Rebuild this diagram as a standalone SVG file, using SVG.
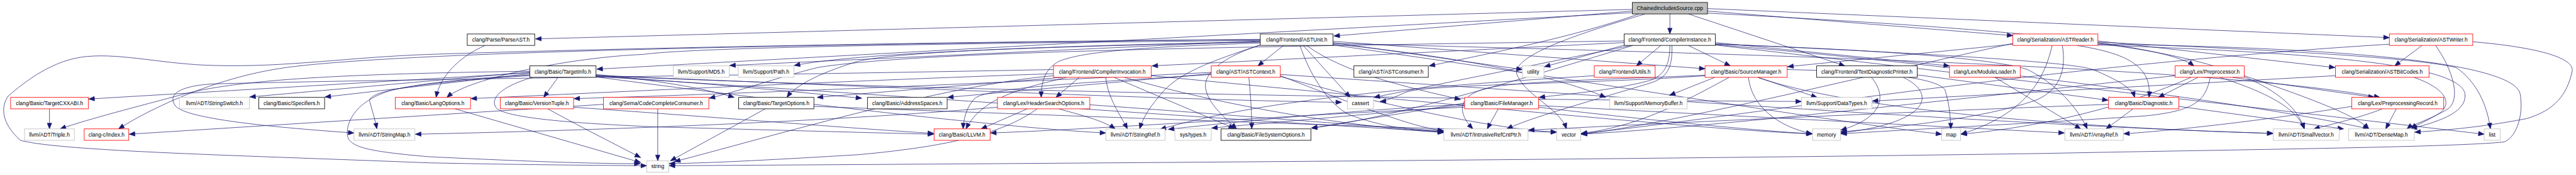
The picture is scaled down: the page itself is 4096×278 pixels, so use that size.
<svg xmlns="http://www.w3.org/2000/svg" width="4096" height="278" viewBox="0 0 4096 278">
<style>
.n rect{fill:#fff;stroke-width:1.3}
.n text{font-family:"Liberation Sans",Arial,sans-serif;font-size:13px;text-anchor:middle;fill:#000}
.blk rect{stroke:#000}
.red rect{stroke:#ff0000}
.gry rect{stroke:#bfbfbf}
.root rect{fill:#bfbfbf;stroke:#000}
#edges path{fill:none;stroke:#191970;stroke-width:1.1;marker-end:url(#a)}
</style>
<defs>
<marker id="a" markerUnits="userSpaceOnUse" markerWidth="16" markerHeight="14" refX="14" refY="6" orient="auto" overflow="visible"><path d="M0,0.5 L14,6 L0,11.5 z" fill="#191970" stroke="#191970" stroke-width="1"/></marker>
</defs>
<rect width="4096" height="278" fill="#fff"/>
<g transform="scale(0.65)">
<g id="edges">
<path d="M4085,34 L4085,83"/>
<path d="M3993,23 L1310,95"/>
<path d="M3993,27 L3263,88"/>
<path d="M3993,31 L1460,169"/>
<path d="M4177,27 L4924,87"/>
<path d="M4177,21 L5845,92"/>
<path d="M4130,34 L4513,161"/>
<path d="M4177,32 C4700,60 5280,95 5367,161"/>
<path d="M4010,34 C3850,90 3650,130 3496,161"/>
<path d="M4025,34 C3850,85 3690,140 3712,185 C3735,235 3815,265 3832,315"/>
<path d="M3975,110 L3778,163"/>
<path d="M4063,111 L4003,161"/>
<path d="M4130,111 L4233,161"/>
<path d="M3973,104 L2818,161"/>
<path d="M4085,111 C4085,160 4070,185 4035,197 C3940,222 3830,230 3765,238"/>
<path d="M4090,111 C4092,170 4075,190 4040,202 C3900,245 3750,285 3686,315"/>
<path d="M4196,104 L4769,161"/>
<path d="M4196,107 C4700,130 5060,150 5120,170 C5180,195 5215,215 5222,238"/>
<path d="M4196,110 L6077,328"/>
<path d="M4196,108 C4700,125 4900,150 4960,170 C5030,205 5080,260 5106,315"/>
<path d="M3973,100 C3000,115 2250,125 2000,165 C1900,190 1800,225 1735,240"/>
<path d="M3990,111 L3361,238"/>
<path d="M3995,111 C3700,200 3400,290 3208,313"/>
<path d="M4196,109 C4800,160 5500,250 5795,315"/>
<path d="M3140,111 L3077,161"/>
<path d="M3188,111 L3303,238"/>
<path d="M3180,111 C3210,200 3260,260 3300,280 C3380,310 3450,318 3532,322"/>
<path d="M3196,111 C3290,180 3450,215 3573,243"/>
<path d="M3261,104 L3724,170"/>
<path d="M3261,101 L4171,168"/>
<path d="M3261,108 C3500,130 3800,180 3928,238"/>
<path d="M3083,97 C2400,100 1500,118 1048,133 C850,140 700,165 523,160 C400,157 300,130 213,138 C130,145 60,200 20,235 C2,260 2,300 50,343 C150,370 600,380 1048,398 C1300,403 1450,404 1582,405"/>
<path d="M3083,100 L1785,160"/>
<path d="M3083,103 C2500,115 2100,130 1943,160"/>
<path d="M3083,99 C2400,105 1700,115 1573,133 C1400,140 1150,190 1093,238"/>
<path d="M3083,105 C2800,115 2650,125 2590,150 C2555,170 2547,200 2547,238"/>
<path d="M3083,102 C2600,112 2200,125 2098,150 C2000,180 1945,210 1925,238"/>
<path d="M3083,110 C2960,150 2880,180 2840,230 C2810,265 2795,290 2788,315"/>
<path d="M3083,110 C2990,140 2940,180 2950,220 C2960,260 3000,290 3025,315"/>
<path d="M3083,96 C2000,108 1000,125 700,165 C520,190 360,270 290,315"/>
<path d="M3261,106 C4200,130 5400,160 5822,238"/>
<path d="M3261,110 C3900,200 4500,300 4750,328"/>
<path d="M3055,189 C3060,240 3062,280 3062,315"/>
<path d="M2725,189 L3020,314"/>
<path d="M2963,180 L2318,238"/>
<path d="M2963,182 C2700,200 2420,212 2385,240 C2365,260 2357,290 2356,315"/>
<path d="M2963,177 C2500,200 1800,230 1404,241"/>
<path d="M3132,185 C3300,250 3450,310 3532,320"/>
<path d="M3132,182 C4000,240 5000,310 5561,326"/>
<path d="M3132,187 C3400,260 3650,315 3808,323"/>
<path d="M2600,189 L1999,238"/>
<path d="M2640,189 L2583,238"/>
<path d="M2577,180 C2000,200 1400,230 1152,241"/>
<path d="M2705,189 C2710,240 2740,280 2758,315"/>
<path d="M2577,185 C2300,210 1900,330 1650,395"/>
<path d="M2577,170 C1800,185 900,195 523,205 C430,210 410,235 430,260 C460,290 650,310 866,325"/>
<path d="M2610,189 C2500,215 2400,240 2363,315"/>
<path d="M2750,189 C3000,260 3300,310 3532,324"/>
<path d="M2816,185 C3500,250 4200,320 4434,327"/>
<path d="M1296,178 L217,242"/>
<path d="M1296,176 L611,237"/>
<path d="M1296,180 L795,237"/>
<path d="M1296,174 C900,180 600,190 450,230 C330,262 220,290 147,315"/>
<path d="M1365,189 L1330,238"/>
<path d="M1458,182 C1600,195 1720,215 1796,238"/>
<path d="M1458,186 C1700,200 1950,225 2108,240"/>
<path d="M1458,184 C2200,215 2900,245 3282,250"/>
<path d="M1296,185 C1050,200 890,220 905,250 C912,275 918,295 922,315"/>
<path d="M1296,183 C1150,192 1050,200 960,220 C870,245 845,300 850,333 C858,360 900,370 1048,383 C1300,395 1450,400 1566,400"/>
<path d="M1303,189 C1230,210 1195,240 1215,265 C1250,295 1500,305 1600,310 C1900,318 2150,325 2284,328"/>
<path d="M1458,188 C2000,260 2500,315 2705,325"/>
<path d="M1458,187 C2300,240 3100,300 3531,322"/>
<path d="M1458,185 C2500,230 3800,245 4407,248"/>
<path d="M1187,111 C1120,140 1075,190 1067,238"/>
<path d="M121,266 L121,315"/>
<path d="M1609,266 L1609,393"/>
<path d="M1476,255 L316,328"/>
<path d="M1340,266 C1420,310 1500,350 1567,385"/>
<path d="M1403,262 C1800,290 2100,315 2284,326"/>
<path d="M1113,266 L1567,397"/>
<path d="M1872,266 L1640,393"/>
<path d="M1991,260 C2800,290 3500,315 3808,323"/>
<path d="M2513,266 L2400,315"/>
<path d="M2537,266 C2450,330 2300,360 2100,378 C1900,390 1750,398 1637,400"/>
<path d="M2590,266 C2640,280 2700,295 2728,315"/>
<path d="M2440,262 C2000,300 1400,320 1016,328"/>
<path d="M2666,256 C3000,280 3300,305 3531,320"/>
<path d="M3665,266 L3638,315"/>
<path d="M3583,262 C3100,285 2700,315 2423,325"/>
<path d="M3583,258 L2964,313"/>
<path d="M3583,255 C3300,270 3000,300 2858,316"/>
<path d="M3583,252 L3208,313"/>
<path d="M3764,262 C4000,290 4300,320 4433,327"/>
<path d="M3764,258 L5050,325"/>
<path d="M3900,185 C3500,210 3100,240 2838,316"/>
<path d="M4195,189 L4084,233"/>
<path d="M4300,189 L4445,238"/>
<path d="M4171,185 C3900,205 3500,205 3440,225 C3410,238 3390,247 3376,248"/>
<path d="M4171,184 C3900,195 3700,200 3640,215 C3570,232 3560,270 3603,315"/>
<path d="M4277,189 C4285,260 4350,310 4433,327"/>
<path d="M4372,170 C4600,175 4740,190 4758,220 C4768,250 4772,290 4772,315"/>
<path d="M4300,189 C4500,260 5000,310 5560,326"/>
<path d="M4230,189 C4100,260 4000,310 3868,326"/>
<path d="M4690,183 L5157,245"/>
<path d="M4578,189 C4620,240 4600,290 4503,318"/>
<path d="M4656,189 C4740,230 4720,300 4503,325"/>
<path d="M4880,189 L5090,315"/>
<path d="M4924,108 L4373,163"/>
<path d="M5132,100 L5712,165"/>
<path d="M5080,111 C5200,130 5265,160 5257,238"/>
<path d="M5045,111 C5055,170 5040,220 4980,245 C4850,290 4650,310 4503,322"/>
<path d="M5020,111 C5000,200 4950,280 4797,328"/>
<path d="M5132,106 C5400,140 5600,200 5637,315"/>
<path d="M5132,110 C5700,130 6020,160 6030,230 C6035,280 5950,300 5898,315"/>
<path d="M5132,103 C5600,125 5900,140 6008,165 C6060,200 6085,260 6092,315"/>
<path d="M5132,108 C5700,115 6150,150 6165,230 C6175,290 6150,340 6125,347 C6000,360 5500,365 5000,375 C4000,390 2500,400 1637,405"/>
<path d="M4924,106 C4500,200 4100,300 3868,328"/>
<path d="M5925,111 L5858,161"/>
<path d="M5958,111 C6000,170 6020,240 5990,265 C5950,290 5900,305 5888,315"/>
<path d="M6049,102 C6200,115 6300,140 6292,175 C6280,230 6250,270 6180,290 C6050,315 5950,320 5907,323"/>
<path d="M5845,108 C5000,160 4300,280 3868,327"/>
<path d="M5905,189 C5980,215 6000,250 5970,275 C5940,295 5910,305 5899,315"/>
<path d="M5713,185 L4580,247"/>
<path d="M5377,189 L5280,238"/>
<path d="M5430,189 C5560,230 5620,270 5637,315"/>
<path d="M5460,189 L5808,238"/>
<path d="M5407,189 C5395,240 5380,270 5250,283 C5000,300 4700,315 4503,327"/>
<path d="M5490,185 C5650,240 5760,280 5795,315"/>
<path d="M5321,185 C4800,240 4200,310 3868,328"/>
<path d="M5360,189 C5200,260 5000,310 4797,328"/>
<path d="M5330,260 L5733,315"/>
<path d="M5218,266 L5152,315"/>
<path d="M5158,255 C4500,280 4000,305 3739,318"/>
<path d="M5862,266 L5836,315"/>
<path d="M5753,260 C5500,300 5300,320 5195,327"/>
<path d="M5828,266 C5780,285 5720,300 5660,315"/>
</g>
<g id="n_root" class="n root"><rect x="3993" y="6" width="184" height="28"/><text x="4085" y="24.5">ChainedIncludesSource.cpp</text></g>
<g id="n_parseast" class="n blk"><rect x="1143" y="83" width="165" height="28"/><text x="1225.5" y="101.5">clang/Parse/ParseAST.h</text></g>
<g id="n_astunit" class="n blk"><rect x="3083" y="83" width="178" height="28"/><text x="3172" y="101.5">clang/Frontend/ASTUnit.h</text></g>
<g id="n_compinst" class="n blk"><rect x="3973" y="83" width="223" height="28"/><text x="4084.5" y="101.5">clang/Frontend/CompilerInstance.h</text></g>
<g id="n_astreader" class="n red"><rect x="4924" y="83" width="208" height="28"/><text x="5028" y="101.5">clang/Serialization/ASTReader.h</text></g>
<g id="n_astwriter" class="n red"><rect x="5845" y="83" width="204" height="28"/><text x="5947" y="101.5">clang/Serialization/ASTWriter.h</text></g>
<g id="n_targetinfo" class="n blk"><rect x="1296" y="161" width="162" height="28"/><text x="1377" y="179.5">clang/Basic/TargetInfo.h</text></g>
<g id="n_md5" class="n gry"><rect x="1647" y="161" width="137" height="28"/><text x="1715.5" y="179.5">llvm/Support/MD5.h</text></g>
<g id="n_path" class="n gry"><rect x="1806" y="161" width="136" height="28"/><text x="1874" y="179.5">llvm/Support/Path.h</text></g>
<g id="n_compinv" class="n red"><rect x="2577" y="161" width="239" height="28"/><text x="2696.5" y="179.5">clang/Frontend/CompilerInvocation.h</text></g>
<g id="n_astcontext" class="n red"><rect x="2963" y="161" width="169" height="28"/><text x="3047.5" y="179.5">clang/AST/ASTContext.h</text></g>
<g id="n_astconsumer" class="n blk"><rect x="3312" y="161" width="182" height="28"/><text x="3403" y="179.5">clang/AST/ASTConsumer.h</text></g>
<g id="n_utility" class="n gry"><rect x="3724" y="161" width="53" height="28"/><text x="3750.5" y="179.5">utility</text></g>
<g id="n_utils" class="n red"><rect x="3900" y="161" width="149" height="28"/><text x="3974.5" y="179.5">clang/Frontend/Utils.h</text></g>
<g id="n_srcmgr" class="n red"><rect x="4171" y="161" width="201" height="28"/><text x="4271.5" y="179.5">clang/Basic/SourceManager.h</text></g>
<g id="n_textdiag" class="n blk"><rect x="4444" y="161" width="246" height="28"/><text x="4567" y="179.5">clang/Frontend/TextDiagnosticPrinter.h</text></g>
<g id="n_modloader" class="n red"><rect x="4769" y="161" width="173" height="28"/><text x="4855.5" y="179.5">clang/Lex/ModuleLoader.h</text></g>
<g id="n_preproc" class="n red"><rect x="5321" y="161" width="169" height="28"/><text x="5405.5" y="179.5">clang/Lex/Preprocessor.h</text></g>
<g id="n_astbitcodes" class="n red"><rect x="5713" y="161" width="229" height="28"/><text x="5827.5" y="179.5">clang/Serialization/ASTBitCodes.h</text></g>
<g id="n_cxxabi" class="n red"><rect x="26" y="238" width="190" height="28"/><text x="121" y="256.5">clang/Basic/TargetCXXABI.h</text></g>
<g id="n_strswitch" class="n gry"><rect x="439" y="238" width="171" height="28"/><text x="524.5" y="256.5">llvm/ADT/StringSwitch.h</text></g>
<g id="n_specifiers" class="n blk"><rect x="633" y="238" width="161" height="28"/><text x="713.5" y="256.5">clang/Basic/Specifiers.h</text></g>
<g id="n_langopts" class="n red"><rect x="967" y="238" width="184" height="28"/><text x="1059" y="256.5">clang/Basic/LangOptions.h</text></g>
<g id="n_version" class="n red"><rect x="1224" y="238" width="179" height="28"/><text x="1313.5" y="256.5">clang/Basic/VersionTuple.h</text></g>
<g id="n_codecomplete" class="n red"><rect x="1476" y="238" width="258" height="28"/><text x="1605" y="256.5">clang/Sema/CodeCompleteConsumer.h</text></g>
<g id="n_targetopts" class="n blk"><rect x="1807" y="238" width="184" height="28"/><text x="1899" y="256.5">clang/Basic/TargetOptions.h</text></g>
<g id="n_addrspaces" class="n blk"><rect x="2122" y="238" width="195" height="28"/><text x="2219.5" y="256.5">clang/Basic/AddressSpaces.h</text></g>
<g id="n_hsopts" class="n red"><rect x="2440" y="238" width="226" height="28"/><text x="2553" y="256.5">clang/Lex/HeaderSearchOptions.h</text></g>
<g id="n_cassert" class="n gry"><rect x="3296" y="238" width="64" height="28"/><text x="3328" y="256.5">cassert</text></g>
<g id="n_filemgr" class="n red"><rect x="3583" y="238" width="181" height="28"/><text x="3673.5" y="256.5">clang/Basic/FileManager.h</text></g>
<g id="n_membuf" class="n gry"><rect x="3938" y="238" width="189" height="28"/><text x="4032.5" y="256.5">llvm/Support/MemoryBuffer.h</text></g>
<g id="n_datatypes" class="n gry"><rect x="4407" y="238" width="172" height="28"/><text x="4493" y="256.5">llvm/Support/DataTypes.h</text></g>
<g id="n_diag" class="n red"><rect x="5158" y="238" width="172" height="28"/><text x="5244" y="256.5">clang/Basic/Diagnostic.h</text></g>
<g id="n_pprec" class="n red"><rect x="5753" y="238" width="225" height="28"/><text x="5865.5" y="256.5">clang/Lex/PreprocessingRecord.h</text></g>
<g id="n_triple" class="n gry"><rect x="60" y="315" width="122" height="28"/><text x="121" y="333.5">llvm/ADT/Triple.h</text></g>
<g id="n_index" class="n red"><rect x="206" y="315" width="109" height="28"/><text x="260.5" y="333.5">clang-c/Index.h</text></g>
<g id="n_strmap" class="n gry"><rect x="866" y="315" width="149" height="28"/><text x="940.5" y="333.5">llvm/ADT/StringMap.h</text></g>
<g id="n_llvm" class="n red"><rect x="2285" y="315" width="137" height="28"/><text x="2353.5" y="333.5">clang/Basic/LLVM.h</text></g>
<g id="n_strref" class="n gry"><rect x="2705" y="315" width="145" height="28"/><text x="2777.5" y="333.5">llvm/ADT/StringRef.h</text></g>
<g id="n_systypes" class="n gry"><rect x="2874" y="315" width="89" height="28"/><text x="2918.5" y="333.5">sys/types.h</text></g>
<g id="n_fsopts" class="n blk"><rect x="2987" y="315" width="220" height="28"/><text x="3097" y="333.5">clang/Basic/FileSystemOptions.h</text></g>
<g id="n_irc" class="n gry"><rect x="3532" y="315" width="206" height="28"/><text x="3635" y="333.5">llvm/ADT/IntrusiveRefCntPtr.h</text></g>
<g id="n_vector" class="n gry"><rect x="3808" y="315" width="59" height="28"/><text x="3837.5" y="333.5">vector</text></g>
<g id="n_memory" class="n gry"><rect x="4434" y="315" width="68" height="28"/><text x="4468" y="333.5">memory</text></g>
<g id="n_map" class="n gry"><rect x="4750" y="315" width="46" height="28"/><text x="4773" y="333.5">map</text></g>
<g id="n_arrayref" class="n gry"><rect x="5051" y="315" width="143" height="28"/><text x="5122.5" y="333.5">llvm/ADT/ArrayRef.h</text></g>
<g id="n_smallvec" class="n gry"><rect x="5561" y="315" width="161" height="28"/><text x="5641.5" y="333.5">llvm/ADT/SmallVector.h</text></g>
<g id="n_densemap" class="n gry"><rect x="5745" y="315" width="161" height="28"/><text x="5825.5" y="333.5">llvm/ADT/DenseMap.h</text></g>
<g id="n_list" class="n gry"><rect x="6077" y="315" width="39" height="28"/><text x="6096.5" y="333.5">list</text></g>
<g id="n_string" class="n gry"><rect x="1582" y="393" width="54" height="28"/><text x="1609" y="411.5">string</text></g>
</g>
</svg>
